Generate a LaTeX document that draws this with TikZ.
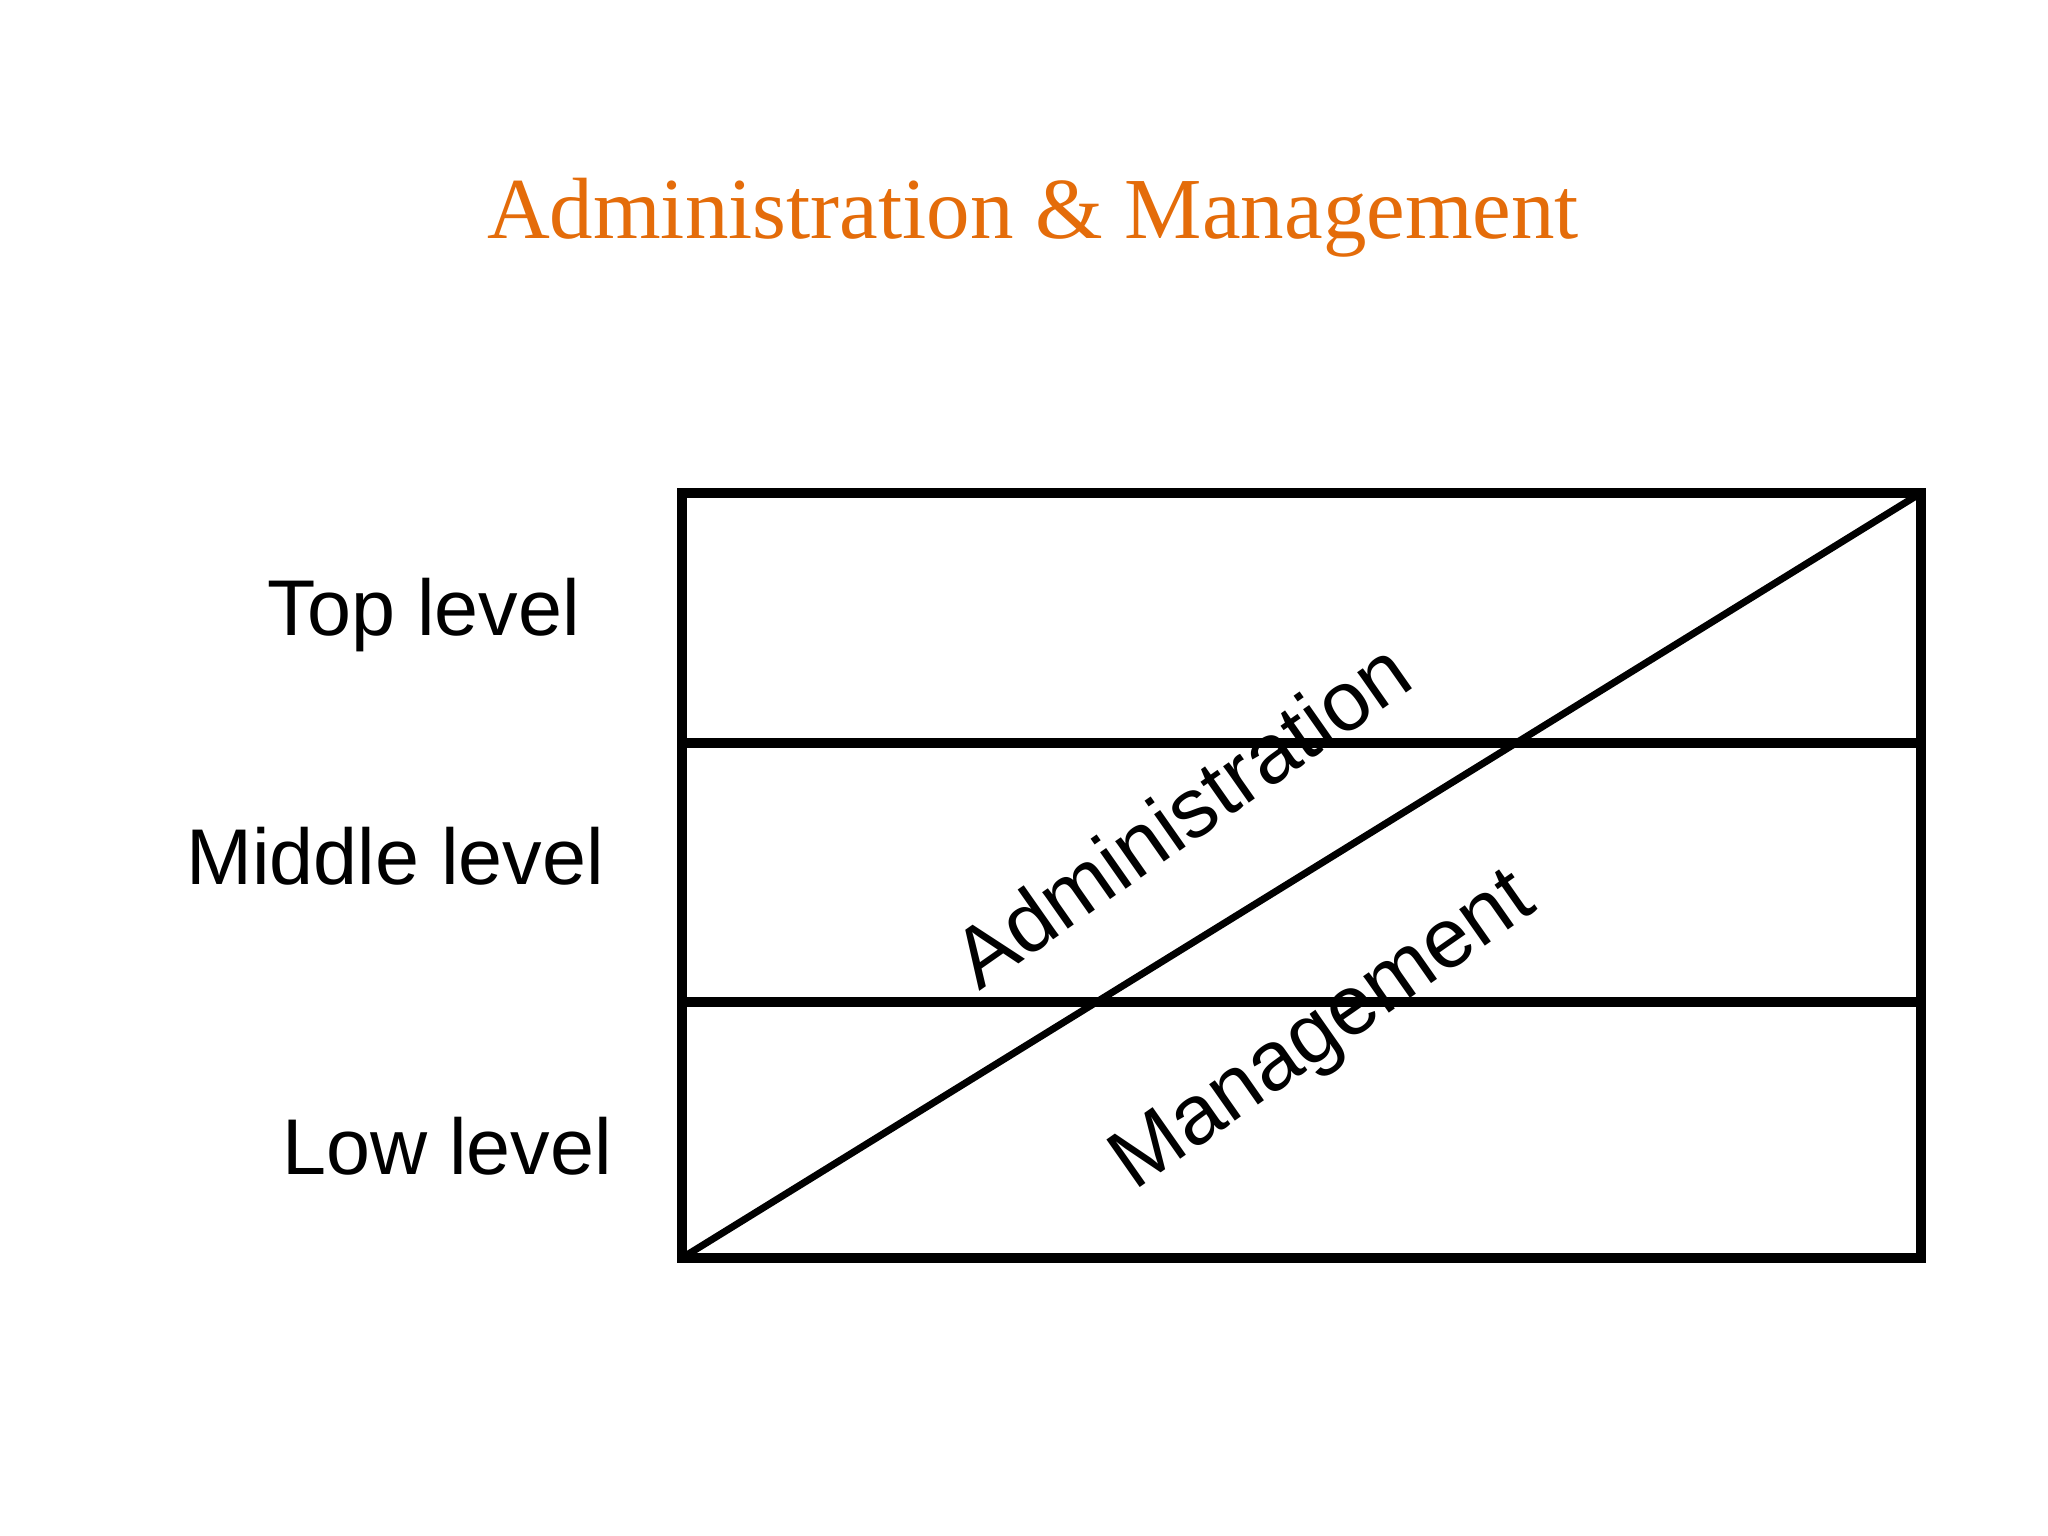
\documentclass[tikz,border=0pt]{standalone}
\usepackage{fontspec}
\setmainfont{Liberation Sans}
\newfontfamily\titlefont{Liberation Serif}
\tikzset{levelline/.style = {line width=2.6pt},
         levellabel/.style = {font=\fontsize{22.5}{27}\selectfont, anchor=base},
         slantlabel/.style = {font=\fontsize{24}{29}\selectfont, rotate=35}}
\definecolor{morange}{HTML}{E46C0A}

\begin{document}
\begin{tikzpicture}
      \useasboundingbox (0, 0) rectangle (20.48, 15.36);

      \node [morange, font=\titlefont\fontsize{24.75}{30}\selectfont, anchor=base] (title) at (10.33, 12.97) {Administration \& Management};

      \coordinate (bl) at (6.82, 2.78);
      \coordinate (br) at (19.21, 2.78);
      \coordinate (tl) at (6.82, 10.43);
      \coordinate (tr) at (19.21, 10.43);
      \coordinate (ml) at (6.82, 7.93);
      \coordinate (mr) at (19.21, 7.93);
      \coordinate (ll) at (6.82, 5.34);
      \coordinate (lr) at (19.21, 5.34);

      \draw [levelline] (bl) rectangle (tr);
      \draw [levelline] (ml) -- (mr);
      \draw [levelline] (ll) -- (lr);
      \draw [line width=2pt] (bl) -- (tr);

      \node [levellabel] (top) at (4.24, 9.00) {Top level};
      \node [levellabel] (middle) at (3.95, 6.51) {Middle level};
      \node [levellabel] (low) at (4.47, 3.61) {Low level};

      \node [slantlabel] (admin) at (11.81, 7.22) {Administration};
      \node [slantlabel] (mgmt) at (13.25, 5.02) {Management};
    \end{tikzpicture}
\end{document}
